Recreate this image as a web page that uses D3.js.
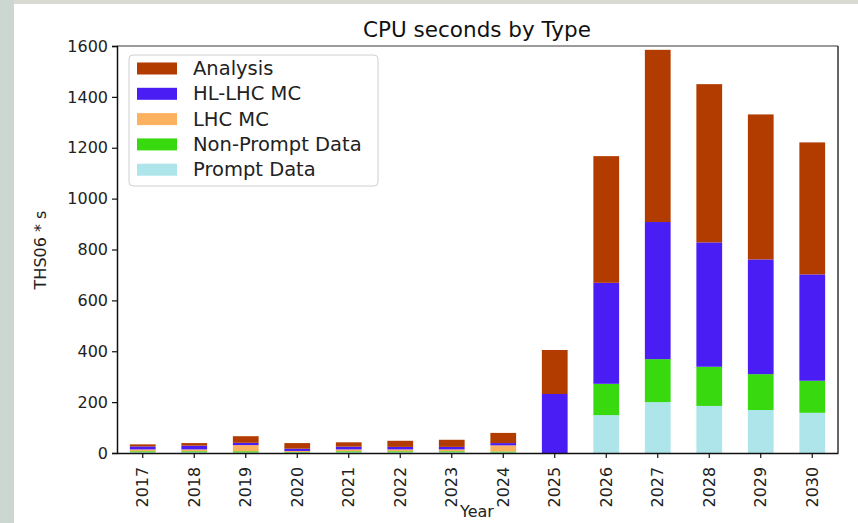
<!DOCTYPE html>
<html>
<head>
<meta charset="utf-8">
<script src="https://cdn.jsdelivr.net/npm/d3@7"></script>
<style>
  html, body { margin: 0; padding: 0; background: #ffffff; }
  svg { display: block; font-family: "DejaVu Sans", sans-serif; }
</style>
</head>
<body>
<svg id="chart" width="858" height="523"></svg>
<script>
// Years on the x axis
const years = ["2017","2018","2019","2020","2021","2022","2023","2024","2025","2026","2027","2028","2029","2030"];

// CPU seconds per type (THS06 * s), stacked bottom to top
const promptData    = [3, 3, 2, 2, 3, 3, 3, 2, 0, 149, 200, 185, 169, 158];
const nonPromptData = [4, 4, 5, 2, 4, 4, 4, 4, 0, 123, 169, 154, 141, 126];
const lhcMC         = [7, 7, 24, 4, 7, 7, 7, 24, 0, 0, 0, 0, 0, 0];
const hlLhcMC       = [12, 15, 9, 9, 11, 10, 10, 9, 232, 397, 539, 489, 451, 418];
const analysis      = [8, 10, 26, 22, 17, 24, 28, 40, 173, 498, 677, 622, 570, 519];

const yTicks = [0, 200, 400, 600, 800, 1000, 1200, 1400, 1600];

const seriesNames  = ["Prompt Data", "Non-Prompt Data", "LHC MC", "HL-LHC MC", "Analysis"];
const seriesValues = [promptData, nonPromptData, lhcMC, hlLhcMC, analysis];
const seriesColors = ["#ade5eb", "#38d90e", "#fcb15f", "#4a1df5", "#b23b00"];
const legendOrder  = ["Analysis", "HL-LHC MC", "LHC MC", "Non-Prompt Data", "Prompt Data"];

const rows = years.map((y, i) => {
  const r = { year: y };
  seriesNames.forEach((n, k) => { r[n] = seriesValues[k][i]; });
  return r;
});

const svg = d3.select("#chart");
const W = 858, H = 523;

// page backdrop
svg.append("rect").attr("x", 0).attr("y", 0).attr("width", W).attr("height", H).attr("fill", "#d8dad2");
svg.append("rect").attr("x", 0).attr("y", 0).attr("width", 14).attr("height", H).attr("fill", "#cbd7d0");
svg.append("rect").attr("x", 14).attr("y", 4).attr("width", W - 14).attr("height", H - 4).attr("fill", "#ffffff");

const m = { left: 117, right: 838, top: 46, bottom: 453 };

const x = d3.scaleBand().domain(years).range([m.left, m.right]).paddingInner(0.5).paddingOuter(0.25);
const y = d3.scaleLinear().domain([0, 1600]).range([m.bottom, m.top]);

const color = d3.scaleOrdinal().domain(seriesNames).range(seriesColors);

const stacked = d3.stack().keys(seriesNames)(rows);

const g = svg.append("g");
g.selectAll("g.layer")
  .data(stacked)
  .join("g")
  .attr("class", "layer")
  .attr("fill", d => color(d.key))
  .selectAll("rect")
  .data(d => d)
  .join("rect")
  .attr("x", d => x(d.data.year))
  .attr("width", x.bandwidth())
  .attr("y", d => y(d[1]))
  .attr("height", d => y(d[0]) - y(d[1]));

// frame
svg.append("line").attr("x1", m.left).attr("x2", m.right).attr("y1", m.top).attr("y2", m.top)
  .attr("stroke", "#7a7a7a").attr("stroke-width", 1.5);
svg.append("line").attr("x1", m.right).attr("x2", m.right).attr("y1", m.top).attr("y2", m.bottom)
  .attr("stroke", "#333").attr("stroke-width", 1.5);

// y axis
const yAxis = svg.append("g")
  .attr("transform", `translate(${m.left},0)`)
  .call(d3.axisLeft(y).tickValues(yTicks).tickSize(5).tickPadding(4).tickFormat(d3.format("d")));
yAxis.select(".domain").attr("stroke", "#111").attr("stroke-width", 1.5);
yAxis.selectAll(".tick line").attr("stroke", "#111").attr("stroke-width", 1.2);
yAxis.selectAll("text").attr("font-size", 16).attr("fill", "#222").attr("font-family", "DejaVu Sans");

// x axis
const xAxis = svg.append("g")
  .attr("transform", `translate(0,${m.bottom})`)
  .call(d3.axisBottom(x).tickSize(5).tickSizeOuter(0));
xAxis.select(".domain").attr("stroke", "#111").attr("stroke-width", 1.5);
xAxis.selectAll(".tick line").attr("stroke", "#111").attr("stroke-width", 1.2);
xAxis.selectAll("text")
  .attr("font-size", 16).attr("fill", "#222").attr("font-family", "DejaVu Sans")
  .attr("transform", "rotate(-90)")
  .attr("text-anchor", "end")
  .attr("dx", "-0.55em")
  .attr("dy", "0.33em")
  .attr("y", 0)
  .attr("x", -5);

// title and axis labels
svg.append("text").attr("x", 477).attr("y", 37).attr("text-anchor", "middle")
  .attr("font-size", 21.5).attr("fill", "#111").text("CPU seconds by Type");
svg.append("text").attr("x", 477).attr("y", 517).attr("text-anchor", "middle")
  .attr("font-size", 16).attr("fill", "#222").text("Year");
svg.append("text").attr("transform", "translate(46,250) rotate(-90)").attr("text-anchor", "middle")
  .attr("font-size", 16).attr("fill", "#222").text("THS06 * s");

// legend
const lg = svg.append("g");
lg.append("rect").attr("x", 129).attr("y", 55).attr("width", 249).attr("height", 131)
  .attr("rx", 4).attr("fill", "#fff").attr("stroke", "#d0d0d0").attr("stroke-width", 1);
legendOrder.forEach((name, i) => {
  const cy = 68.5 + i * 25.3;
  lg.append("rect").attr("x", 137).attr("y", cy - 6).attr("width", 40).attr("height", 12).attr("fill", color(name));
  lg.append("text").attr("x", 193).attr("y", cy + 6.5).attr("font-size", 19.5).attr("fill", "#222").text(name);
});
</script>
</body>
</html>
